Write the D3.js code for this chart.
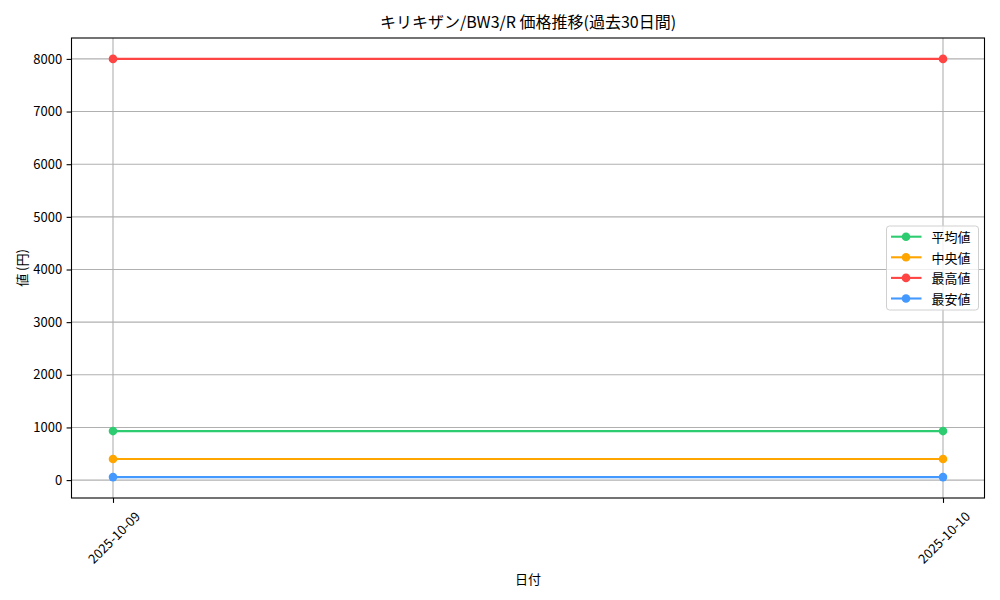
<!DOCTYPE html>
<html>
<head>
<meta charset="utf-8">
<script src="https://cdn.jsdelivr.net/npm/d3@7"></script>
<style>
  body { margin: 0; background: #fff; }
  svg text { font-family: "Noto Sans CJK JP", "DejaVu Sans", sans-serif; fill: #000; }
</style>
</head>
<body>
<div id="chart"></div>
<script>
// Chart data
const dates = ["2025-10-09", "2025-10-10"];
const avgPrices = [931, 931];
const medianPrices = [400, 400];
const maxPrices = [8000, 8000];
const minPrices = [57, 57];
const yTicks = [0, 1000, 2000, 3000, 4000, 5000, 6000, 7000, 8000];

const series = [
    { name: "平均値", values: avgPrices, color: "#2ecc71" },
    { name: "中央値", values: medianPrices, color: "#ffa500" },
    { name: "最高値", values: maxPrices, color: "#ff4444" },
    { name: "最安値", values: minPrices, color: "#4499ff" }
];

// Layout
const W = 1000, H = 600;
const margin = { top: 38, right: 15.5, bottom: 102, left: 71.5 };
const width = W - margin.left - margin.right;
const height = H - margin.top - margin.bottom;

function createChart() {
    const svg = d3.select("#chart")
        .append("svg")
        .attr("width", W)
        .attr("height", H);

    const g = svg.append("g")
        .attr("transform", `translate(${margin.left},${margin.top})`);

    const parse = d3.timeParse("%Y-%m-%d");
    const xs = dates.map(parse);

    // 5% padding on both axes, like matplotlib
    const xPad = (xs[xs.length - 1] - xs[0]) * 0.05;
    const xScale = d3.scaleTime()
        .domain([new Date(+xs[0] - xPad), new Date(+xs[xs.length - 1] + xPad)])
        .range([0, width]);

    const allVals = series.flatMap(s => s.values);
    const [yMin, yMax] = d3.extent(allVals);
    const yPad = (yMax - yMin) * 0.05;
    const yScale = d3.scaleLinear()
        .domain([yMin - yPad, yMax + yPad])
        .range([height, 0]);

    // Grid
    g.append("g")
        .selectAll("line")
        .data(yTicks)
        .enter()
        .append("line")
        .attr("x1", 0).attr("x2", width)
        .attr("y1", d => yScale(d)).attr("y2", d => yScale(d))
        .attr("stroke", "#b0b0b0")
        .attr("stroke-width", 1.1);

    g.append("g")
        .selectAll("line")
        .data(xs)
        .enter()
        .append("line")
        .attr("x1", d => xScale(d)).attr("x2", d => xScale(d))
        .attr("y1", 0).attr("y2", height)
        .attr("stroke", "#b0b0b0")
        .attr("stroke-width", 1.1);

    // Y axis
    const yAxis = d3.axisLeft(yScale)
        .tickValues(yTicks)
        .tickFormat(d3.format("d"))
        .tickSize(4.9)
        .tickPadding(4.5);
    const yg = g.append("g").call(yAxis);
    yg.select(".domain").remove();
    yg.selectAll("line").attr("stroke", "#000").attr("stroke-width", 1.1);
    yg.selectAll("text").attr("font-size", "13px").attr("font-family", "\"Noto Sans CJK JP\", sans-serif");

    // X axis
    const xAxis = d3.axisBottom(xScale)
        .tickValues(xs)
        .tickFormat(d3.timeFormat("%Y-%m-%d"))
        .tickSize(4.9);
    const xg = g.append("g")
        .attr("transform", `translate(0,${height})`)
        .call(xAxis);
    xg.select(".domain").remove();
    xg.selectAll("line").attr("stroke", "#000").attr("stroke-width", 1.1);
    xg.selectAll("text")
        .attr("font-size", "13px")
        .attr("font-family", "\"Noto Sans CJK JP\", sans-serif")
        .attr("text-anchor", "middle")
        .attr("dominant-baseline", "central")
        .attr("dy", null)
        .attr("y", 0)
        .attr("transform", "translate(0,39) rotate(-45)");

    // Lines and markers
    const line = d3.line()
        .x((d, i) => xScale(xs[i]))
        .y(d => yScale(d));

    series.forEach(s => {
        const sg = g.append("g");
        sg.append("path")
            .datum(s.values)
            .attr("fill", "none")
            .attr("stroke", s.color)
            .attr("stroke-width", 2.1)
            .attr("d", line);
        sg.selectAll("circle")
            .data(s.values)
            .enter()
            .append("circle")
            .attr("cx", (d, i) => xScale(xs[i]))
            .attr("cy", d => yScale(d))
            .attr("r", 4.3)
            .attr("fill", s.color);
    });

    // Frame
    g.append("rect")
        .attr("width", width)
        .attr("height", height)
        .attr("fill", "none")
        .attr("stroke", "#000")
        .attr("stroke-width", 1.1);

    // Title and axis labels
    svg.append("text")
        .attr("x", margin.left + width / 2)
        .attr("y", 28)
        .attr("text-anchor", "middle")
        .attr("font-size", "16px")
        .text("キリキザン/BW3/R 価格推移(過去30日間)");

    svg.append("text")
        .attr("x", margin.left + width / 2)
        .attr("y", 578)
        .attr("dominant-baseline", "central")
        .attr("text-anchor", "middle")
        .attr("font-size", "13px")
        .text("日付");

    svg.append("text")
        .attr("transform", `translate(21,${margin.top + height / 2}) rotate(-90)`)
        .attr("dominant-baseline", "central")
        .attr("text-anchor", "middle")
        .attr("font-size", "13px")
        .text("値 (円)");

    // Legend
    const lg = g.append("g")
        .attr("transform", `translate(${width - 98},${height / 2 - 42})`);
    lg.append("rect")
        .attr("width", 92)
        .attr("height", 84)
        .attr("rx", 3)
        .attr("fill", "#fff")
        .attr("fill-opacity", 0.8)
        .attr("stroke", "#d0d0d0")
        .attr("stroke-width", 1);

    const items = lg.selectAll("g.item")
        .data(series)
        .enter()
        .append("g")
        .attr("class", "item")
        .attr("transform", (d, i) => `translate(0,${10.7 + i * 20.6})`);
    items.append("line")
        .attr("x1", 4.5).attr("x2", 35)
        .attr("stroke", d => d.color)
        .attr("stroke-width", 2.1);
    items.append("circle")
        .attr("cx", 19.5)
        .attr("r", 4.3)
        .attr("fill", d => d.color);
    items.append("text")
        .attr("x", 45)
        .attr("dominant-baseline", "central")
        .attr("font-size", "13px")
        .text(d => d.name);
}

document.addEventListener("DOMContentLoaded", createChart);
</script>
</body>
</html>
